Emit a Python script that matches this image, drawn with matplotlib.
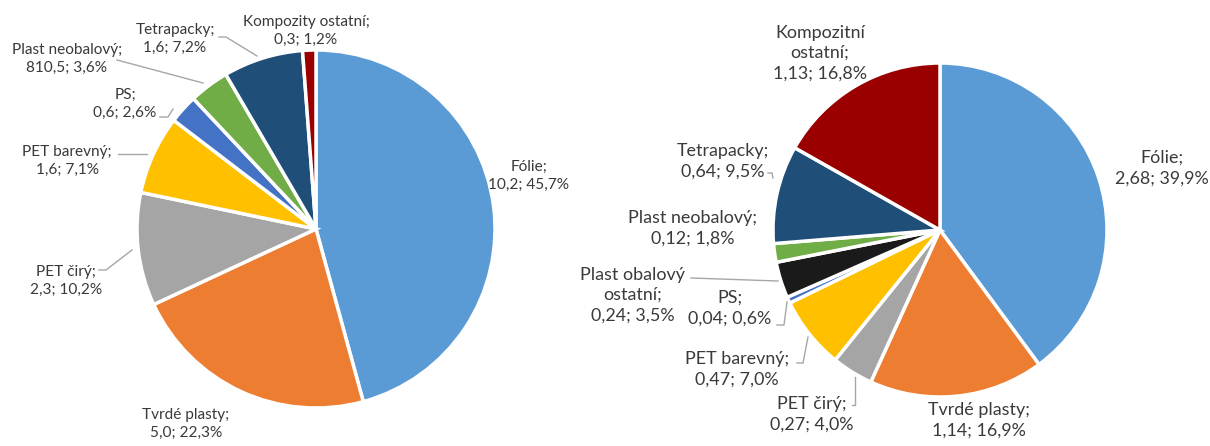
import matplotlib.pyplot as plt

plt.rcParams['font.family'] = ['Lato', 'DejaVu Sans']

# left chart
left_names = ["Fólie", "Tvrdé plasty", "PET čirý", "PET barevný", "PS",
              "Plast neobalový", "Tetrapacky", "Kompozity ostatní"]
left_values = ["10,2", "5,0", "2,3", "1,6", "0,6", "810,5", "1,6", "0,3"]
left_pct = [45.7, 22.3, 10.2, 7.1, 2.6, 3.6, 7.2, 1.2]

# right chart
right_names = ["Fólie", "Tvrdé plasty", "PET čirý", "PET barevný", "PS",
               "Plast obalový\nostatní", "Plast neobalový", "Tetrapacky",
               "Kompozitní\nostatní"]
right_values = ["2,68", "1,14", "0,27", "0,47", "0,04", "0,24", "0,12", "0,64", "1,13"]
right_pct = [39.9, 16.9, 4.0, 7.0, 0.6, 3.5, 1.8, 9.5, 16.8]

colors = {
    "Fólie": "#5B9BD5", "Tvrdé plasty": "#ED7D31", "PET čirý": "#A5A5A5",
    "PET barevný": "#FFC000", "PS": "#4472C4", "Plast neobalový": "#70AD47",
    "Tetrapacky": "#1F4E79", "Kompozity ostatní": "#9B0000",
    "Kompozitní\nostatní": "#9B0000", "Plast obalový\nostatní": "#1A1A1A",
}

W, H = 1210, 446
fig = plt.figure(figsize=(W / 100, H / 100), dpi=100)
ax = fig.add_axes([0, 0, 1, 1])
ax.set_xlim(0, W)
ax.set_ylim(0, H)
ax.set_aspect('equal')
ax.axis('off')


def py(y):
    return H - y


def draw_pie(names, pct, center, r):
    ax.pie(pct, colors=[colors[n] for n in names], startangle=90,
           counterclock=False, center=(center[0], py(center[1])), radius=r,
           wedgeprops=dict(edgecolor='white', linewidth=2.5))


draw_pie(left_names, left_pct, (316, 229), 179)
draw_pie(right_names, right_pct, (940, 230), 167)

ax.set_xlim(0, W)
ax.set_ylim(0, H)

# label positions (text centre, pixel) and optional leader lines
left_layout = [
    ((529, 176), None),
    ((186, 424), None),
    ((66, 281), [(99, 270), (106, 270), (132, 250)]),
    ((67, 161), [(118, 154), (147, 154)]),
    ((125, 104), [(160, 117), (168, 117), (173, 109)]),
    ((67, 59), [(117, 60), (203, 83)]),
    ((175, 39), [(219, 37), (226, 37), (257, 56)]),
    ((306, 31), None),
]
right_layout = [
    ((1162, 168), None),
    ((979, 420), None),
    ((812, 414), [(852, 405), (855, 405), (855, 377)]),
    ((737, 369), [(797, 363), (803, 363), (808, 337)]),
    ((730, 308), [(777, 325), (784, 325), (787, 302)]),
    ((633, 295), [(691, 278), (778, 281)]),
    ((693, 228), None),
    ((723, 161), [(768, 173), (772, 173), (773, 178)]),
    ((820, 53), None),
]


def draw_labels(names, values, pct, layout, size, spacing):
    for n, v, p, ((x, y), line) in zip(names, values, pct, layout):
        txt = f"{n};\n{v}; {p:.1f}%".replace('.', ',')
        ax.text(x, py(y), txt, ha='center', va='center', fontsize=size,
                color='#3A3A3A', linespacing=spacing)
        if line:
            ax.plot([q[0] for q in line], [py(q[1]) for q in line],
                    color='#A6A6A6', lw=1)


draw_labels(left_names, left_values, left_pct, left_layout, 11.1, 1.38)
draw_labels(right_names, right_values, right_pct, right_layout, 12.9, 1.33)

fig.savefig('out.png', dpi=100)
